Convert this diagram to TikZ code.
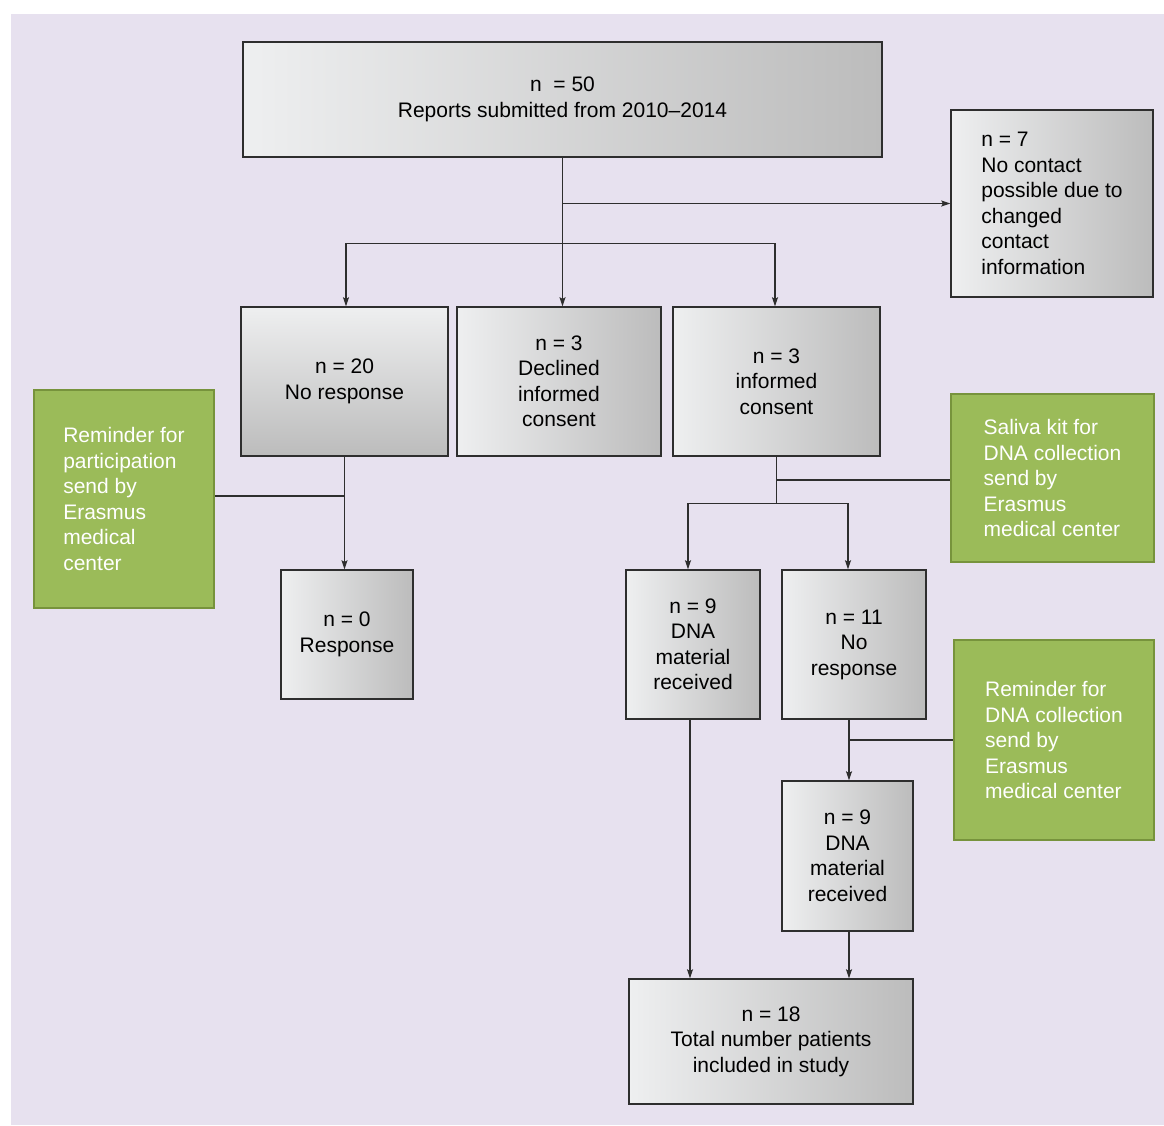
\documentclass[tikz,border=0pt]{standalone}
\usepackage{fontspec}
\setmainfont{Liberation Sans}
\usetikzlibrary{arrows.meta,calc}
\definecolor{bglav}{HTML}{E7E1EF}
\definecolor{gfill}{HTML}{9BBB59}
\definecolor{gline}{HTML}{77933C}
\definecolor{glight}{HTML}{EEEFF0}
\definecolor{gdark}{HTML}{BCBCBC}
\definecolor{boxline}{HTML}{2E2E2E}
\definecolor{lineclr}{HTML}{2E2E2E}
\begin{document}
\begin{tikzpicture}[x=1pt,y=-1pt,
  txt/.style={font=\fontsize{21}{25.5}\selectfont},
  graybox/.style={txt, draw=boxline, line width=1.4pt, left color=glight, right color=gdark, align=center, inner sep=0pt},
  vgraybox/.style={txt, draw=boxline, line width=1.4pt, top color=glight, bottom color=gdark, align=center, inner sep=0pt},
  lgraybox/.style={graybox, align=left},
  greenbox/.style={txt, fill=gfill, draw=gline, line width=2.8pt, text=white, align=left, inner sep=0pt},
  conn/.style={draw=lineclr, line width=1.2pt},
  arr/.style={conn, -{Stealth[length=9pt,width=6pt,inset=1.5pt]}}
]
\useasboundingbox (0,0) rectangle (1164,1125);
\fill[bglav] (11,14) rectangle (1164,1125);

\node[graybox, minimum width=639pt, minimum height=115pt] (top) at (562.5,99.5)
  {n~~= 50\\Reports submitted from 2010--2014};
\node[lgraybox, minimum width=202pt, minimum height=187pt] (n7) at (1052,203.5)
  {n = 7\\No contact\\possible due to\\changed\\contact\\information};
\node[vgraybox, minimum width=207pt, minimum height=149pt] (nr) at (344.5,381.5)
  {n = 20\\No response};
\node[graybox, minimum width=204pt, minimum height=149pt] (dec) at (559,381.5)
  {n = 3\\Declined\\informed\\consent};
\node[graybox, minimum width=207pt, minimum height=149pt] (ic) at (776.5,381.5)
  {n = 3\\informed\\consent};
\node[greenbox, minimum width=180pt, minimum height=218pt] (g1) at (124,499)
  {Reminder for\\participation\\send by\\Erasmus\\medical\\center};
\node[graybox, minimum width=132pt, minimum height=129pt] (n0) at (347,634.5)
  {n = 0\\Response};
\node[greenbox, minimum width=203pt, minimum height=168pt] (sal) at (1052.5,478)
  {Saliva kit for\\DNA collection\\send by\\Erasmus\\medical center};
\node[graybox, minimum width=134pt, minimum height=149pt] (dna1) at (693,644.5)
  {n = 9\\DNA\\material\\received};
\node[graybox, minimum width=144pt, minimum height=149pt] (nr11) at (854,644.5)
  {n = 11\\No\\response};
\node[greenbox, minimum width=200pt, minimum height=200pt] (g2) at (1054,740)
  {Reminder for\\DNA collection\\send by\\Erasmus\\medical center};
\node[graybox, minimum width=131pt, minimum height=150pt] (n9b) at (847.5,856)
  {n = 9\\DNA\\material\\received};
\node[graybox, minimum width=284pt, minimum height=125pt] (fin) at (771,1041.5)
  {n = 18\\Total number patients\\included in study};

% connectors
\coordinate (br1) at ($(top.south)+(0,86)$);
\draw[arr] (top.south) -- (top.south |- dec.north);
\draw[arr] (top.south |- n7.west) -- (n7.west);
\draw[arr] (br1) -| ([xshift=1.5pt]nr.north);
\draw[arr] (br1) -| ([xshift=-1.5pt]ic.north);

\draw[arr] (nr.south) -- (nr.south |- n0.north);
\draw[conn] ([yshift=3pt]g1.east) -- ([yshift=3pt]nr.south |- g1.east);

\coordinate (br2) at ($(ic.south)+(0,47)$);
\draw[conn] (ic.south) -- (br2);
\draw[conn] ([yshift=-2pt]sal.west) -- ([yshift=-2pt]ic.south |- sal.west);
\draw[arr] (br2) -| ([xshift=-5pt]dna1.north);
\draw[arr] (br2) -| ([xshift=-6pt]nr11.north);

\draw[arr] ([xshift=1.5pt]n9b.north |- nr11.south) -- ([xshift=1.5pt]n9b.north);
\draw[conn] (g2.west) -- ([xshift=1.5pt]n9b.north |- g2.west);

\draw[arr] ([xshift=-3pt]dna1.south) -- ([xshift=-3pt]dna1.south |- fin.north);
\draw[arr] ([xshift=1.5pt]n9b.south) -- ([xshift=1.5pt]n9b.south |- fin.north);
\end{tikzpicture}
\end{document}
